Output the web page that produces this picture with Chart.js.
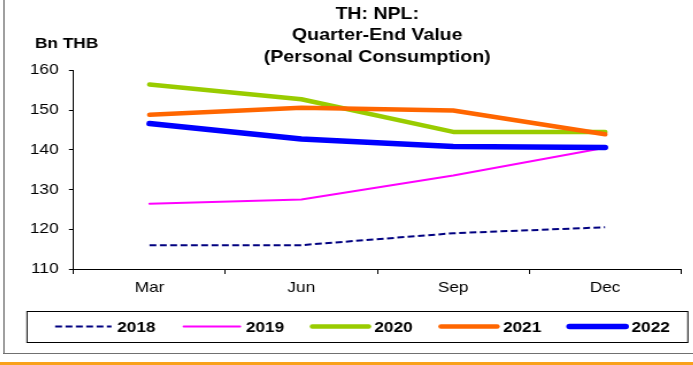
<!DOCTYPE html>
<html>
<head>
<meta charset="utf-8">
<script src="https://cdn.jsdelivr.net/npm/chart.js@4.4.1/dist/chart.umd.min.js"></script>
<style>
  html, body { margin: 0; padding: 0; background: #fff; }
  body { width: 693px; height: 365px; position: relative; overflow: hidden; }
  .frame-left { position: absolute; left: 3px; top: 0; width: 2px; height: 354px; background: #a0a0a0; }
  .frame-bottom { position: absolute; left: 3px; top: 353px; width: 690px; height: 1px; background: #707070; }
  .rule { position: absolute; left: 0; top: 362px; width: 693px; height: 3px; background: #f9a11b; }
  .wrap {
    position: absolute; left: 6px; top: 0; width: 610px; height: 352px;
    transform: scaleX(1.1493); transform-origin: 0 0;
  }
</style>
</head>
<body>
<div class="frame-left"></div>
<div class="frame-bottom"></div>
<div class="rule"></div>
<div class="wrap"><canvas id="npl" width="610" height="352"></canvas></div>
<script>
// NPL, personal consumption, quarter-end (Bn THB)
const quarters = ['Mar', 'Jun', 'Sep', 'Dec'];
const npl2018 = [116.0, 116.0, 119.0, 120.5];
const npl2019 = [126.4, 127.5, 133.5, 140.5];
const npl2020 = [156.4, 152.7, 144.5, 144.5];
const npl2021 = [148.8, 150.6, 149.9, 143.9];
const npl2022 = [146.6, 142.7, 140.8, 140.6];
const yTicks = [110, 120, 130, 140, 150, 160];

const FONT = 'Arial, "Liberation Sans", sans-serif';
const SHIFT = 6 / 1.1493; // canvas starts right of the frame line

function series(label, data, color, width, order, dash) {
    return {
        label: label,
        data: data,
        borderColor: color,
        backgroundColor: color,
        borderWidth: width,
        borderDash: dash || [],
        borderCapStyle: dash ? 'butt' : 'round',
        borderJoinStyle: 'round',
        pointRadius: 0,
        tension: 0,
        fill: false,
        order: order
    };
}

// legend in a framed box under the axis
const boxLegend = {
    id: 'boxLegend',
    afterDraw(chart) {
        const ctx = chart.ctx;
        const area = chart.chartArea;
        const top = area.bottom + 42, h = 31;
        const yc = top + h / 2;
        ctx.save();
        ctx.strokeStyle = '#000';
        ctx.lineWidth = 1;
        ctx.strokeRect(23.5 - SHIFT, top + 0.5, 575, h);

        ctx.font = 'bold 15px ' + FONT;
        ctx.textBaseline = 'middle';
        ctx.textAlign = 'left';
        let x = 48 - SHIFT;
        chart.data.datasets.forEach(ds => {
            ctx.beginPath();
            ctx.strokeStyle = ds.borderColor;
            ctx.lineWidth = ds.borderWidth;
            ctx.setLineDash(ds.borderDash);
            ctx.lineCap = ds.borderCapStyle;
            ctx.moveTo(x, yc);
            ctx.lineTo(x + 49, yc);
            ctx.stroke();
            ctx.setLineDash([]);
            ctx.fillStyle = '#000';
            ctx.fillText(ds.label, x + 54, yc + 1);
            x += 54 + ctx.measureText(ds.label).width + 24.5;
        });

        // unit label over the value axis
        ctx.fillText('Bn THB', 30.5 - SHIFT, 44);
        ctx.restore();
    }
};

new Chart(document.getElementById('npl'), {
    type: 'line',
    data: {
        labels: quarters,
        datasets: [
            series('2018', npl2018, '#000080', 2, 5, [6, 3]),
            series('2019', npl2019, '#ff00ff', 2, 4),
            series('2020', npl2020, '#99cc00', 4.5, 3),
            series('2021', npl2021, '#ff6600', 4.5, 2),
            series('2022', npl2022, '#0000ff', 5.5, 1)
        ]
    },
    options: {
        responsive: false,
        animation: false,
        events: [],
        layout: { padding: { top: 0, left: 0, right: 610 - 592.5 + SHIFT, bottom: 57 } },
        plugins: {
            legend: { display: false },
            tooltip: { enabled: false },
            title: {
                display: true,
                fullSize: false,
                text: ['TH: NPL:', 'Quarter-End Value', '(Personal Consumption)'],
                color: '#000',
                font: { family: FONT, size: 17, weight: 'bold', lineHeight: 1.28 },
                padding: { top: 3, bottom: 2 }
            }
        },
        scales: {
            x: {
                offset: true,
                grid: { offset: true, drawOnChartArea: false, drawTicks: true, tickLength: 5, color: '#000' },
                border: { display: true, color: '#000', width: 1 },
                ticks: { color: '#000', font: { family: FONT, size: 15 }, padding: 5, maxRotation: 0 },
                afterFit(scale) { scale.height = 26; }
            },
            y: {
                min: 110,
                max: 160,
                afterBuildTicks(scale) { scale.ticks = yTicks.map(v => ({ value: v })); },
                grid: { drawOnChartArea: false, drawTicks: true, tickLength: 4, color: '#000' },
                border: { display: true, color: '#000', width: 1 },
                ticks: { color: '#000', font: { family: FONT, size: 15 }, padding: 9 },
                afterFit(scale) { scale.width = 64 - SHIFT; }
            }
        }
    },
    plugins: [boxLegend]
});
</script>
</body>
</html>
